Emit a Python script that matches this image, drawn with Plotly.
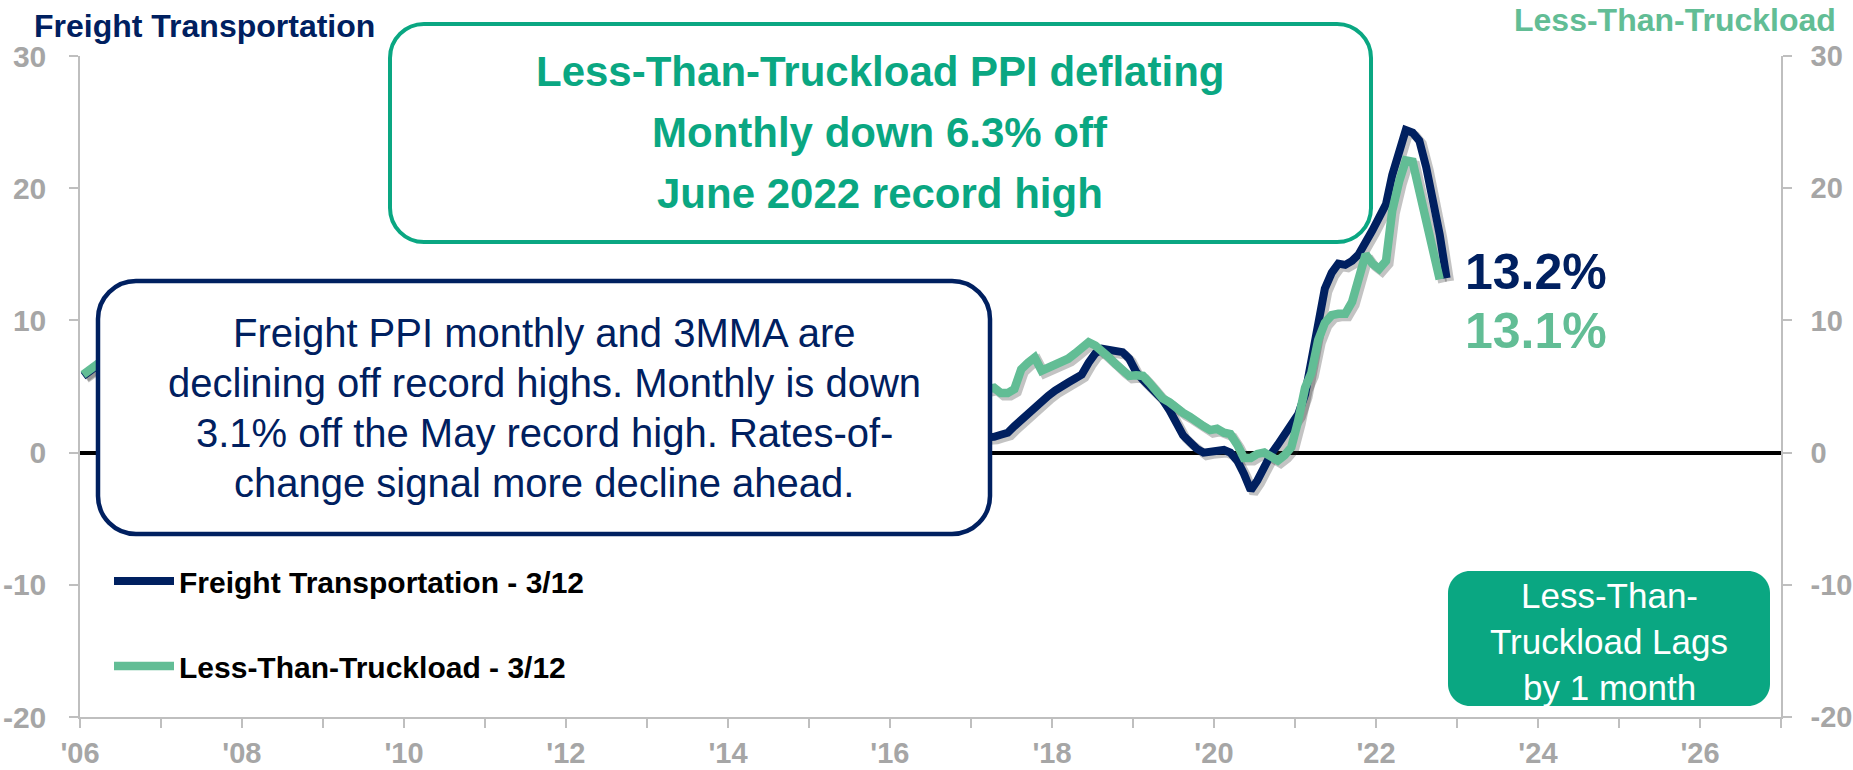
import pandas as pd
import plotly.graph_objects as go

# ------------------------------------------------------------------ data
# 3/12 rate-of-change (%), monthly. Middle years are hidden behind the
# text box in the original chart, so only the visible spans are listed.
start_2006 = "2006-01-01"
freight_2006 = [5.8, 6.2, 6.6, 6.9]            # Jan-Apr 2006
ltl_2006 = [5.9, 6.3, 6.7, 7.0]                # Jan-Apr 2006

start_2017 = "2017-01-01"
freight_2017_22 = [                             # Jan 2017 - Nov 2022
    1.1, 1.1, 1.15, 1.2, 1.35, 1.5, 2.0, 2.5, 2.9, 3.3, 3.9, 4.3,
    4.7, 5.1, 5.3, 5.6, 5.9, 6.8, 7.5, 7.85, 7.8, 7.7, 7.6, 7.1,
    6.1, 5.5, 5.0, 4.6, 4.0, 3.2, 2.2, 1.3, 0.8, 0.3, 0.0, 0.1,
    0.1, 0.2, 0.0, -0.6, -1.6, -2.85, -2.1, -1.0, -0.1, 0.6, 1.3, 2.0,
    2.9, 4.4, 6.8, 9.5, 12.4, 13.6, 14.3, 14.2, 14.5, 15.0, 15.8, 16.8,
    17.8, 18.8, 21.0, 22.8, 24.4, 24.2, 23.6, 21.6, 19.3, 16.5, 13.2,
]
ltl_2017_22 = [                                 # Jan 2017 - Oct 2022
    4.6, 4.7, 4.8, 4.9, 4.5, 4.5, 4.8, 6.3, 6.8, 7.2, 6.2, 6.4,
    6.6, 6.8, 7.1, 7.5, 8.0, 8.35, 8.1, 7.7, 7.2, 6.7, 6.2, 5.8,
    5.85, 5.8, 5.3, 4.7, 4.1, 3.8, 3.3, 3.0, 2.7, 2.3, 2.0, 1.7,
    1.8, 1.5, 1.4, 0.6, -0.4, -0.4, -0.1, 0.0, -0.3, -0.6, -0.2, 0.4,
    2.4, 4.9, 6.0, 8.5, 9.8, 10.4, 10.5, 10.5, 11.4, 13.0, 15.0, 14.3,
    13.9, 14.5, 18.3, 20.5, 22.1, 22.0, 19.8, 17.5, 15.3, 13.1,
]

series_names = ["Freight Transportation - 3/12", "Less-Than-Truckload - 3/12"]
y_tick_vals = [-20, -10, 0, 10, 20, 30]
y_tick_text = ["-20", "-10", "0", "10", "20", "30"]
x_tick_years = [2006, 2008, 2010, 2012, 2014, 2016, 2018, 2020, 2022, 2024, 2026]
x_tick_text = ["'06", "'08", "'10", "'12", "'14", "'16", "'18", "'20", "'22", "'24", "'26"]

# ------------------------------------------------------------------ build series (monthly, plotted mid-month)
def monthly(start, n):
    return list(pd.date_range(start, periods=n, freq="MS") + pd.Timedelta(days=14))

def joined(v_a, v_b):
    xa = monthly(start_2006, len(v_a))
    xb = monthly(start_2017, len(v_b))
    gap = [pd.Timestamp("2011-06-15")]
    return xa + gap + xb, list(v_a) + [None] + list(v_b)

fx, fy = joined(freight_2006, freight_2017_22)
lx, ly = joined(ltl_2006, ltl_2017_22)

# ------------------------------------------------------------------ styling
NAVY = "#002060"
LTL = "#62bd95"
TEAL = "#0aa782"
GRAY = "#a6a6a6"
AXIS = "#bfbfbf"
FONT = "Liberation Sans, Arial, sans-serif"

W, H = 1853, 770
L, R, T, B = 80, 72, 56, 53
PW, PH = W - L - R, H - T - B

x_lo, x_hi = pd.Timestamp("2006-01-01"), pd.Timestamp("2027-01-01")
y_lo, y_hi = -20, 30
# shadow offset (3 px right / 3 px down)
dx = (x_hi - x_lo) * (3 / PW)
dy = (y_hi - y_lo) * (3 / PH)


def px(xp):
    return (xp - L) / PW


def py(yp):
    return (H - B - yp) / PH


def rounded(x0, y0, x1, y1, r):
    k = 0.5523 * r
    pts = [
        ("M", [(x0 + r, y0)]),
        ("L", [(x1 - r, y0)]),
        ("C", [(x1 - r + k, y0), (x1, y0 + r - k), (x1, y0 + r)]),
        ("L", [(x1, y1 - r)]),
        ("C", [(x1, y1 - r + k), (x1 - r + k, y1), (x1 - r, y1)]),
        ("L", [(x0 + r, y1)]),
        ("C", [(x0 + r - k, y1), (x0, y1 - r + k), (x0, y1 - r)]),
        ("L", [(x0, y0 + r)]),
        ("C", [(x0, y0 + r - k), (x0 + r - k, y0), (x0 + r, y0)]),
    ]
    s = ""
    for cmd, ps in pts:
        s += cmd + " ".join(f"{px(a):.5f},{py(b):.5f}" for a, b in ps) + " "
    return s + "Z"


fig = go.Figure()

# shadows (base subplot, shifted ranges)
for xs, ys in ((fx, fy), (lx, ly)):
    fig.add_trace(go.Scatter(x=xs, y=ys, mode="lines", xaxis="x", yaxis="y",
                             line=dict(color="rgba(40,40,40,0.28)", width=9),
                             hoverinfo="skip", showlegend=False, connectgaps=False))

fig.add_trace(go.Scatter(x=fx, y=fy, mode="lines", name=series_names[0],
                         xaxis="x2", yaxis="y2", legendgroup="a",
                         line=dict(color=NAVY, width=8), connectgaps=False))
fig.add_trace(go.Scatter(x=lx, y=ly, mode="lines", name=series_names[1],
                         xaxis="x2", yaxis="y3", legendgroup="b",
                         line=dict(color=LTL, width=8.5), connectgaps=False))

tickfont = dict(family=FONT, size=30, color=GRAY, weight="bold")
xtickfont = dict(family=FONT, size=29, color=GRAY, weight="bold")
rtickfont = dict(family=FONT, size=29, color=GRAY, weight="bold")

fig.update_layout(
    width=W, height=H,
    margin=dict(l=L, r=R, t=T, b=B, autoexpand=False),
    paper_bgcolor="white", plot_bgcolor="white",
    font=dict(family=FONT),
    xaxis=dict(range=[x_lo - dx, x_hi - dx], visible=False, type="date", automargin=False),
    yaxis=dict(range=[y_lo + dy, y_hi + dy], visible=False, automargin=False),
    xaxis2=dict(overlaying="x", anchor="y2", type="date", automargin=False,
                range=[x_lo, x_hi], showgrid=False, zeroline=False,
                showline=True, linecolor=AXIS, linewidth=1.5,
                tickvals=[f"{y}-01-01" for y in x_tick_years], ticktext=x_tick_text,
                ticks="outside", ticklen=9, tickwidth=1.5, tickcolor=AXIS,
                tickfont=xtickfont, ticklabelstandoff=0,
                minor=dict(ticks="outside", ticklen=9, tickwidth=1.5, tickcolor=AXIS,
                           dtick="M12", tick0="2006-01-01", showgrid=False)),
    yaxis2=dict(overlaying="y", anchor="x2", side="left", range=[y_lo, y_hi],
                automargin=False,
                showgrid=False, zeroline=True, zerolinecolor="black", zerolinewidth=4,
                showline=True, linecolor=AXIS, linewidth=1.5,
                tickvals=y_tick_vals, ticktext=y_tick_text,
                ticks="outside", ticklen=9, tickwidth=1.5, tickcolor=AXIS,
                tickfont=tickfont, ticklabelstandoff=17),
    yaxis3=dict(overlaying="y", anchor="x2", side="right", range=[y_lo, y_hi],
                automargin=False,
                showgrid=False, zeroline=False,
                showline=True, linecolor=AXIS, linewidth=1.5,
                tickvals=y_tick_vals, ticktext=y_tick_text,
                ticks="outside", ticklen=9, tickwidth=1.5, tickcolor=AXIS,
                tickfont=rtickfont, ticklabelstandoff=13),
    legend=dict(x=px(109), y=py(555), xanchor="left", yanchor="top",
                font=dict(family=FONT, size=30, color="black", weight="bold"),
                bgcolor="rgba(0,0,0,0)", tracegroupgap=43, itemwidth=60,
                traceorder="grouped"),
    showlegend=True,
)

shapes = [
    dict(type="path", xref="paper", yref="paper", path=rounded(98, 281, 990, 534, 38),
         fillcolor="white", line=dict(color=NAVY, width=4.5), layer="above"),
    dict(type="path", xref="paper", yref="paper", path=rounded(390, 24, 1371, 242, 34),
         fillcolor="white", line=dict(color=TEAL, width=4), layer="above"),
    dict(type="path", xref="paper", yref="paper", path=rounded(1448, 571, 1770, 706, 22),
         fillcolor=TEAL, line=dict(width=0), layer="above"),
]
fig.update_layout(shapes=shapes)

ann = []


def txt(text, xp, yp, size, color, bold=False, xanchor="center"):
    ann.append(dict(text=text, xref="paper", yref="paper", x=px(xp), y=py(yp),
                    xanchor=xanchor, yanchor="middle", showarrow=False,
                    font=dict(family=FONT, size=size, color=color,
                              weight="bold" if bold else "normal")))


txt("Freight Transportation", 32, 26, 32, NAVY, True, "left")
txt("Less-Than-Truckload", 1838, 20, 32, LTL, True, "right")

for i, line in enumerate(["Less-Than-Truckload PPI deflating", "Monthly down 6.3% off",
                          "June 2022 record high"]):
    txt(line, 880, 71 + 61 * i, 42, TEAL, True)

for i, line in enumerate(["Freight PPI monthly and 3MMA are",
                          "declining off record highs. Monthly is down",
                          "3.1% off the May record high. Rates-of-",
                          "change signal more decline ahead."]):
    txt(line, 544, 333 + 50 * i, 40, NAVY)

for yp, line in zip([595, 641, 687], ["Less-Than-", "Truckload Lags", "by 1 month"]):
    txt(line, 1609, yp, 35, "white")

ann.append(dict(text=f"{freight_2017_22[-1]:.1f}%", xref="x2", yref="y2",
                x=fx[-1], y=fy[-1], xanchor="left", yanchor="middle", xshift=16, yshift=6,
                showarrow=False, font=dict(family=FONT, size=50, color=NAVY, weight="bold")))
ann.append(dict(text=f"{ltl_2017_22[-1]:.1f}%", xref="x2", yref="y3",
                x=lx[-1], y=ly[-1], xanchor="left", yanchor="middle", xshift=23, yshift=-52,
                showarrow=False, font=dict(family=FONT, size=50, color=LTL, weight="bold")))
fig.update_layout(annotations=ann)

fig.write_html(
    "out.html",
    config={"displayModeBar": False},
    post_script="document.body.style.margin='0';document.body.style.overflow='hidden';",
)
